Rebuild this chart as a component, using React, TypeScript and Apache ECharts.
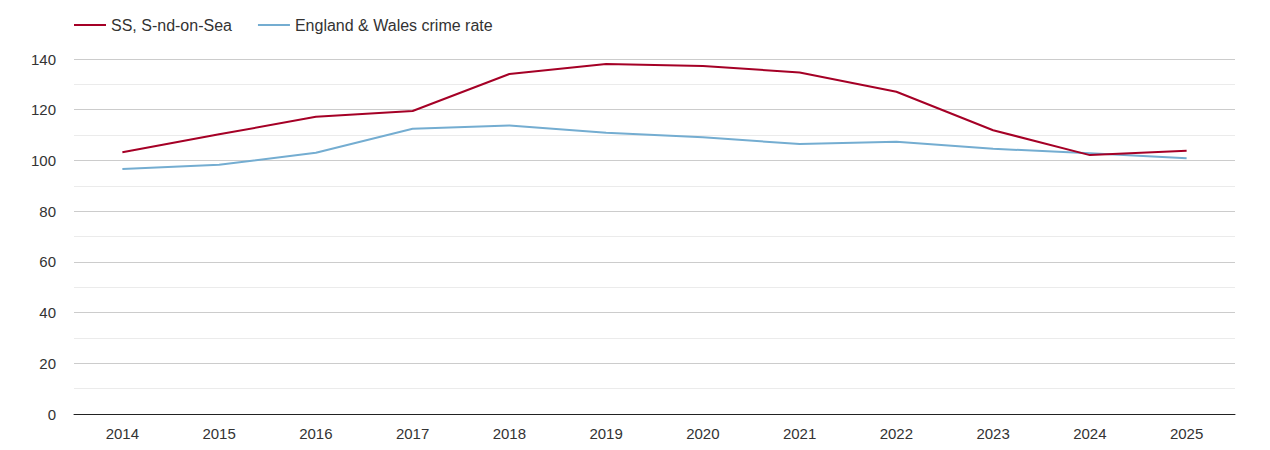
import React, { useEffect, useRef } from "react";
import * as echarts from "echarts";

const years = ["2014", "2015", "2016", "2017", "2018", "2019", "2020", "2021", "2022", "2023", "2024", "2025"];
const localName = "SS, S-nd-on-Sea";
const nationalName = "England & Wales crime rate";
const localValues = [103.2, 110.3, 117.2, 119.5, 134.1, 138.0, 137.2, 134.7, 127.1, 111.9, 102.1, 103.8];
const nationalValues = [96.6, 98.3, 103.0, 112.5, 113.8, 110.9, 109.1, 106.5, 107.4, 104.6, 102.8, 100.9];

export default function App() {
  const ref = useRef<HTMLDivElement>(null);
  useEffect(() => {
    document.body.style.margin = "0";
    const chart = echarts.init(ref.current!, null, { renderer: "svg" });
    const font = "'Liberation Sans', Arial, sans-serif";
    chart.setOption({
      animation: false,
      textStyle: { fontFamily: font },
      legend: {
        left: 69,
        top: 12,
        icon: "rect",
        itemWidth: 32,
        itemHeight: 2,
        itemGap: 26,
        textStyle: { fontSize: 16, color: "#333", fontFamily: font },
        data: [localName, nationalName],
      },
      grid: { left: 74, right: 35, top: 59, bottom: 36, containLabel: false },
      xAxis: {
        type: "category",
        data: years,
        boundaryGap: true,
        axisLine: { show: true, lineStyle: { color: "#222", width: 1 } },
        axisTick: { show: false },
        axisLabel: { color: "#333", fontSize: 15, margin: 12, fontFamily: font },
        splitLine: { show: false },
      },
      yAxis: {
        type: "value",
        min: 0,
        max: 140,
        interval: 20,
        axisLine: { show: false },
        axisTick: { show: false },
        axisLabel: { color: "#333", fontSize: 15, margin: 18, fontFamily: font },
        splitLine: { show: true, lineStyle: { color: "#cccccc", width: 1 } },
        minorTick: { show: false, splitNumber: 2 },
        minorSplitLine: { show: true, lineStyle: { color: "#ebebeb", width: 1 } },
      },
      series: [
        {
          name: localName,
          type: "line",
          data: localValues,
          symbol: "none",
          lineStyle: { color: "#a50026", width: 2 },
          itemStyle: { color: "#a50026" },
          z: 3,
        },
        {
          name: nationalName,
          type: "line",
          data: nationalValues,
          symbol: "none",
          lineStyle: { color: "#74add1", width: 2 },
          itemStyle: { color: "#74add1" },
          z: 2,
        },
      ],
    });
    return () => chart.dispose();
  }, []);
  return <div ref={ref} style={{ width: 1270, height: 450 }} />;
}
